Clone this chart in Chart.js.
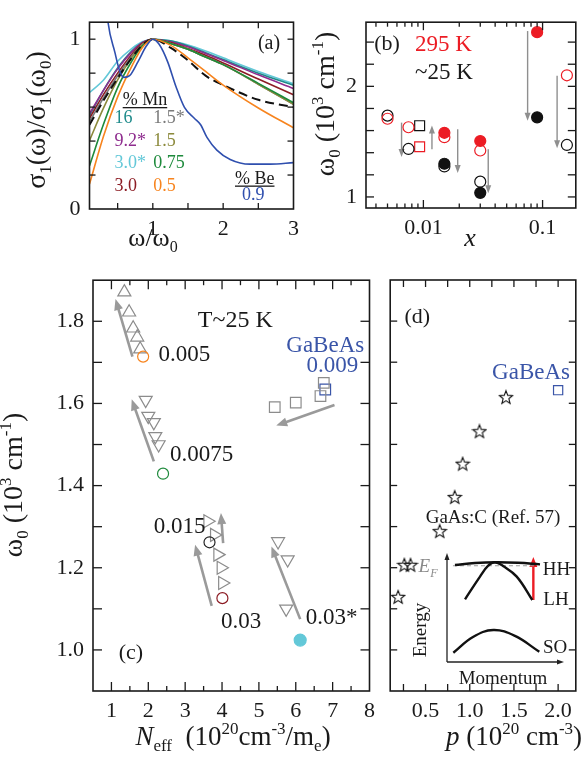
<!doctype html>
<html lang="en">
<head>
<meta charset="UTF-8">
<title>omega_0 of GaMnAs / GaBeAs</title>
<script src="https://cdn.jsdelivr.net/npm/chart.js"></script>
<style>
    body { margin: 0; background: #fff; }
    #fig { position: relative; width: 584px; height: 764px; overflow: hidden; }
    #fig canvas { position: absolute; }
</style>
</head>
<body>
<div id="fig">
    <canvas id="chartA" width="306" height="258" style="left:0;top:0"></canvas>
    <canvas id="chartB" width="284" height="258" style="left:300px;top:0"></canvas>
    <canvas id="chartC" width="382" height="506" style="left:0;top:258px"></canvas>
    <canvas id="chartD" width="202" height="506" style="left:382px;top:258px"></canvas>
    <canvas id="chartE" width="178" height="145" style="left:400px;top:545px"></canvas>
</div>
<script>
// ---- (a) normalised sigma_1(omega) curves, x = omega/omega_0
const aX      = [0.1, 0.3, 0.5, 0.7, 0.85, 1.0, 1.25, 1.5, 1.75, 2.0, 2.5, 3.0];
const aMn16   = [0.55, 0.70, 0.83, 0.93, 0.98, 1.0, 0.99, 0.96, 0.92, 0.88, 0.80, 0.729];
const aMn92s  = [0.561, 0.70, 0.825, 0.925, 0.98, 1.0, 0.985, 0.955, 0.915, 0.875, 0.79, 0.71];
const aMn30s  = [0.686, 0.76, 0.87, 0.945, 0.985, 1.0, 0.99, 0.965, 0.93, 0.89, 0.81, 0.738];
const aMn30   = [0.534, 0.675, 0.80, 0.91, 0.975, 1.0, 0.98, 0.945, 0.905, 0.86, 0.765, 0.673];
const aMn15s  = [0.515, 0.655, 0.785, 0.90, 0.97, 1.0, 0.975, 0.94, 0.895, 0.85, 0.735, 0.617];
const aMn15   = [0.403, 0.595, 0.76, 0.89, 0.965, 1.0, 0.975, 0.94, 0.895, 0.85, 0.735, 0.617];
const aMn075  = [0.255, 0.50, 0.715, 0.87, 0.96, 1.0, 0.975, 0.94, 0.895, 0.85, 0.74, 0.626];
const aMn05   = [0.147, 0.43, 0.66, 0.84, 0.95, 1.0, 0.965, 0.89, 0.81, 0.73, 0.595, 0.478];
const aModel  = [0.496, 0.64, 0.77, 0.89, 0.965, 1.0, 0.95, 0.875, 0.785, 0.73, 0.643, 0.60];
const aBeX    = [0.3, 0.36, 0.46, 0.53, 0.59, 0.67, 0.79, 0.91, 1.0, 1.09, 1.21, 1.33, 1.45, 1.59, 1.68, 1.77, 1.91, 2.1, 2.38, 2.67, 3.0];
const aBe09   = [1.4, 1.11, 0.924, 0.812, 0.775, 0.785, 0.868, 0.961, 1.0, 0.97, 0.868, 0.72, 0.598, 0.534, 0.496, 0.422, 0.347, 0.292, 0.264, 0.264, 0.273];

// ---- (b) omega_0 vs x
const bRedFillX = [0.015, 0.03, 0.09];
const bRedFillY = [1.58, 1.506, 2.49];
const bRedOpenX = [0.005, 0.0075, 0.015, 0.03, 0.16];
const bRedOpenY = [1.707, 1.63, 1.54, 1.42, 2.10];
const bRedSqX = [0.0093];
const bRedSqY = [1.454];
const bBlkFillX = [0.015, 0.03, 0.09];
const bBlkFillY = [1.30, 1.037, 1.72];
const bBlkOpenX = [0.005, 0.0075, 0.015, 0.03, 0.16];
const bBlkOpenY = [1.735, 1.434, 1.276, 1.138, 1.47];
const bBlkSqX = [0.0093];
const bBlkSqY = [1.644];
const bArrowX    = [0.00656, 0.0118, 0.0194, 0.035, 0.0749, 0.1324];
const bArrowFrom = [1.672, 1.431, 1.612, 1.431, 2.50, 2.095];
const bArrowTo   = [1.362, 1.647, 1.216, 1.034, 1.69, 1.44];

// ---- (c) omega_0 vs N_eff
const c005UpX = [1.35, 1.48, 1.59, 1.70, 1.78];
const c005UpY = [1.871, 1.822, 1.783, 1.761, 1.732];
const c0075DnX = [1.93, 2.00, 2.15, 2.19, 2.28];
const c0075DnY = [1.608, 1.569, 1.554, 1.520, 1.500];
const c015RtX = [3.61, 3.79, 3.88, 3.97, 4.01];
const c015RtY = [1.313, 1.28, 1.232, 1.20, 1.163];
const c03sDnX = [5.52, 5.78, 5.74];
const c03sDnY = [1.264, 1.220, 1.100];
const cBeSqX = [5.43, 6.00, 6.67, 6.76];
const cBeSqY = [1.591, 1.602, 1.618, 1.650];
const cCircX = [1.86, 2.40, 3.66, 4.01];
const cCircY = [1.714, 1.429, 1.262, 1.126];
const cCircColor = ['#f7841e', '#1e8a3c', '#222222', '#8c1c24'];
const cFillX = [6.12];
const cFillY = [1.024];
const cBlueSqX = [6.80];
const cBlueSqY = [1.634];
const cArrowX0 = [1.57, 2.15, 7.05, 3.72, 4.03, 6.12];
const cArrowY0 = [1.714, 1.459, 1.596, 1.107, 1.26, 1.075];
const cArrowX1 = [1.11, 1.55, 5.47, 3.27, 3.97, 5.34];
const cArrowY1 = [1.854, 1.61, 1.546, 1.256, 1.333, 1.252];

// ---- (d) omega_0 vs p
const dStarX = [0.19, 0.26, 0.33, 0.66, 0.83, 0.92, 1.11, 1.41];
const dStarY = [1.129, 1.207, 1.207, 1.289, 1.372, 1.453, 1.532, 1.615];
const dBeX = [2.0];
const dBeY = [1.632];

// ---- inset band sketch (arbitrary units 0..100)
const eHHX = [6.8, 23.9, 42.5, 60.7, 79.5];
const eHHY = [89.0, 90.8, 91.5, 91.0, 89.6];
const eLHX = [15.4, 28.2, 35.0, 41.0, 47.9, 59.6, 72.9];
const eLHY = [57.5, 78.3, 88.1, 91.5, 88.1, 78.3, 56.9];
const eSOX = [5.4, 22.2, 39.6, 58.1, 78.9];
const eSOY = [8.5, 22.9, 29.4, 23.9, 9.4];
const eEFX = [5.1, 75.2];
const eEFY = [88.3, 88.3];

const SERIF = '"Liberation Serif", "Times New Roman", Times, serif';
const RED = '#ec1c24';
const GRAY = '#8c8c8c';
const BLUE = '#3a55a8';

Chart.defaults.font.family = SERIF;
Chart.defaults.font.size = 22;
Chart.defaults.color = '#1a1a1a';
Chart.defaults.animation = false;
Chart.defaults.plugins.legend.display = false;
Chart.defaults.plugins.tooltip.enabled = false;

const pts = (xs, ys) => xs.map((x, i) => ({ x: x, y: ys[i] }));
const near = (a, b) => Math.abs(a - b) < 1e-6;

// text with sub/superscripts; parts = [[text, style, colour]]
// style letters: i italic, b subscript, p superscript, u underline
function richText(ctx, parts, x, y, size, align, color, rot) {
    const fontOf = st => (st.includes('i') ? 'italic ' : '') +
        Math.round(st.includes('b') || st.includes('p') ? size * 0.62 : size) + 'px ' + SERIF;
    let w = 0;
    parts.forEach(p => { ctx.font = fontOf(p[1] || ''); w += ctx.measureText(p[0]).width; });
    ctx.save();
    ctx.translate(x, y);
    if (rot) ctx.rotate(rot);
    let cx = align === 'left' ? 0 : (align === 'right' ? -w : -w / 2);
    ctx.textBaseline = 'alphabetic';
    ctx.textAlign = 'left';
    parts.forEach(p => {
        const st = p[1] || '';
        ctx.font = fontOf(st);
        ctx.fillStyle = p[2] || color || '#1a1a1a';
        const dy = st.includes('b') ? size * 0.22 : (st.includes('p') ? -size * 0.4 : 0);
        ctx.fillText(p[0], cx, dy);
        const tw = ctx.measureText(p[0]).width;
        if (st.includes('u')) {
            ctx.fillRect(cx, dy + 2, tw, 1.3);
        }
        cx += tw;
    });
    ctx.restore();
}

function drawArrow(ctx, x0, y0, x1, y1, st) {
    const ang = Math.atan2(y1 - y0, x1 - x0);
    const hl = st.head, hw = st.half;
    const bx = x1 - hl * Math.cos(ang), by = y1 - hl * Math.sin(ang);
    ctx.save();
    ctx.strokeStyle = st.color;
    ctx.fillStyle = st.color;
    ctx.lineWidth = st.width;
    ctx.beginPath();
    ctx.moveTo(x0, y0);
    ctx.lineTo(bx + Math.cos(ang), by + Math.sin(ang));
    ctx.stroke();
    ctx.beginPath();
    ctx.moveTo(x1, y1);
    ctx.lineTo(bx + hw * Math.sin(ang), by - hw * Math.cos(ang));
    ctx.lineTo(bx - hw * Math.sin(ang), by + hw * Math.cos(ang));
    ctx.closePath();
    ctx.fill();
    ctx.restore();
}

// frame, inward ticks on all four sides, arrows and text
function decor(id, cfg) {
    return {
        id: id,
        beforeDatasetsDraw(chart) {
            const xs = chart.scales.x, ys = chart.scales.y, ctx = chart.ctx;
            (cfg.arrows || []).forEach(a => {
                drawArrow(ctx, xs.getPixelForValue(a[0]), ys.getPixelForValue(a[1]),
                    xs.getPixelForValue(a[2]), ys.getPixelForValue(a[3]), cfg.arrowStyle);
            });
        },
        afterDraw(chart) {
            const ctx = chart.ctx, a = chart.chartArea;
            const xs = chart.scales.x, ys = chart.scales.y;
            if (cfg.frame) {
                ctx.save();
                ctx.strokeStyle = '#1a1a1a';
                ctx.lineWidth = 1.6;
                ctx.strokeRect(a.left, a.top, a.right - a.left, a.bottom - a.top);
                ctx.lineWidth = 1.3;
                const seg = (x0, y0, x1, y1) => { ctx.beginPath(); ctx.moveTo(x0, y0); ctx.lineTo(x1, y1); ctx.stroke(); };
                let xv = cfg.xLog ? cfg.xLog : xs.ticks.map(t => t.value);
                xv.forEach(v => {
                    const px = xs.getPixelForValue(v);
                    if (px < a.left + 2 || px > a.right - 2) return;
                    let major = cfg.xLog ? near(Math.log10(v), Math.round(Math.log10(v)))
                        : near(v / cfg.xMajor, Math.round(v / cfg.xMajor));
                    const L = major ? cfg.tickMajor : cfg.tickMinor;
                    seg(px, a.bottom, px, a.bottom - L);
                    seg(px, a.top, px, a.top + L);
                });
                ys.ticks.forEach(t => {
                    const py = ys.getPixelForValue(t.value);
                    if (py < a.top + 2 || py > a.bottom - 2) return;
                    const major = near(t.value / cfg.yMajor, Math.round(t.value / cfg.yMajor));
                    const L = major ? cfg.tickMajor : cfg.tickMinor;
                    seg(a.left, py, a.left + L, py);
                    seg(a.right, py, a.right - L, py);
                });
                ctx.restore();
            }
            (cfg.texts || []).forEach(t => {
                let x = t.x, y = t.y;
                if (t.data) { x = xs.getPixelForValue(t.x); y = ys.getPixelForValue(t.y); }
                if (t.mid) {
                    if (t.rot) x += t.size * 0.34; else y += t.size * 0.34;
                }
                richText(ctx, t.parts, x, y, t.size, t.align || 'center', t.color, t.rot);
            });
            if (cfg.extra) cfg.extra(chart);
        }
    };
}

function axis(pos, min, max, step, label, fit, extra, tickExtra) {
    return Object.assign({
        type: 'linear',
        position: pos,
        min: min,
        max: max,
        grid: { display: false, drawTicks: false },
        border: { display: false },
        ticks: Object.assign({
            stepSize: step, includeBounds: false, autoSkip: false, maxRotation: 0,
            padding: pos === 'bottom' ? 7 : 9, callback: label,
            font: { size: 22, family: SERIF }, color: '#1a1a1a'
        }, tickExtra || {}),
        afterFit: s => { if (pos === 'bottom') s.height = fit; else s.width = fit; }
    }, extra || {});
}

function curve(xs, ys, color, extra) {
    return Object.assign({
        data: pts(xs, ys), showLine: true, borderColor: color, borderWidth: 1.6,
        pointRadius: 0, tension: 0.4, cubicInterpolationMode: 'monotone', fill: false
    }, extra || {});
}

function marks(xs, ys, style, color, fillColor, radius, extra) {
    return Object.assign({
        data: pts(xs, ys), showLine: false, pointStyle: style, pointRadius: radius,
        pointBorderColor: color, pointBackgroundColor: fillColor, pointBorderWidth: 1.2
    }, extra || {});
}

const OPEN = 'rgba(0,0,0,0)';

// ================= (a)
new Chart(document.getElementById('chartA'), {
    type: 'scatter',
    data: {
        datasets: [
            curve(aBeX, aBe09, '#2f4fae'),
            curve(aX, aMn05, '#f7841e'),
            curve(aX, aModel, '#111', { borderDash: [9, 5], borderWidth: 2 }),
            curve(aX, aMn075, '#1e8a3c'),
            curve(aX, aMn15, '#8c8a3c'),
            curve(aX, aMn15s, '#7a7a7a'),
            curve(aX, aMn30, '#8c1c24'),
            curve(aX, aMn92s, '#8e2c8e'),
            curve(aX, aMn16, '#1f8b8b'),
            curve(aX, aMn30s, '#63c8d8')
        ]
    },
    options: {
        responsive: false,
        layout: { padding: { top: 12.5, right: 10.5, left: 0, bottom: 0 } },
        scales: {
            x: axis('bottom', 0.1, 3, 0.5, v => (near(v, Math.round(v)) ? String(Math.round(v)) : ''), 49),
            y: axis('left', 0, 1.1, 0.2, v => (near(v, 0) ? '0' : near(v, 1) ? '1' : ''), 89.5)
        }
    },
    plugins: [decor('decorA', {
        frame: true, xMajor: 0.5, yMajor: 0.2, tickMajor: 6, tickMinor: 6,
        texts: [
            { x: 269, y: 49, size: 20, parts: [['(a)']] },
            { x: 122.7, y: 105, size: 18, align: 'left', parts: [['% Mn', 'u']] },
            { x: 114.5, y: 123, size: 17.5, align: 'left', parts: [['16', '', '#1f8b8b']] },
            { x: 114.5, y: 145.5, size: 17.5, align: 'left', parts: [['9.2*', '', '#8e2c8e']] },
            { x: 114.5, y: 168, size: 17.5, align: 'left', parts: [['3.0*', '', '#63c8d8']] },
            { x: 114.5, y: 191, size: 17.5, align: 'left', parts: [['3.0', '', '#8c1c24']] },
            { x: 153.3, y: 123, size: 17.5, align: 'left', parts: [['1.5*', '', '#7a7a7a']] },
            { x: 153.3, y: 145.5, size: 17.5, align: 'left', parts: [['1.5', '', '#8c8a3c']] },
            { x: 153.3, y: 168, size: 17.5, align: 'left', parts: [['0.75', '', '#1e8a3c']] },
            { x: 153.3, y: 191, size: 17.5, align: 'left', parts: [['0.5', '', '#f7841e']] },
            { x: 235, y: 183.5, size: 18, align: 'left', parts: [['% Be', 'u']] },
            { x: 242, y: 200, size: 17.5, align: 'left', parts: [['0.9', '', '#2f4fae']] },
            { x: 153, y: 246, size: 26, parts: [['ω/ω'], ['0', 'b']] },
            { x: 45, y: 120, size: 28, rot: -Math.PI / 2,
              parts: [['σ'], ['1', 'b'], ['(ω)/σ'], ['1', 'b'], ['(ω'], ['0', 'b'], [')']] }
        ]
    })]
});

// ================= (b)
const bArrows = bArrowX.map((x, i) => [x, bArrowFrom[i], x, bArrowTo[i]]);
const bLogTicks = [];
[-3, -2, -1].forEach(e => { for (let m = 1; m <= 9; m++) bLogTicks.push(m * Math.pow(10, e)); });

new Chart(document.getElementById('chartB'), {
    type: 'scatter',
    data: {
        datasets: [
            marks(bRedFillX, bRedFillY, 'circle', RED, RED, 5.5),
            marks(bBlkFillX, bBlkFillY, 'circle', '#111', '#111', 5.5),
            marks(bRedOpenX, bRedOpenY, 'circle', RED, OPEN, 5.5),
            marks(bBlkOpenX, bBlkOpenY, 'circle', '#111', OPEN, 5.5),
            marks(bRedSqX, bRedSqY, 'rect', RED, OPEN, 7),
            marks(bBlkSqX, bBlkSqY, 'rect', '#111', OPEN, 7)
        ]
    },
    options: {
        responsive: false,
        layout: { padding: { top: 12, right: 5, left: 0, bottom: 0 } },
        scales: {
            x: axis('bottom', 0.0033, 0.19, undefined,
                v => (near(v, 0.01) ? '0.01' : near(v, 0.1) ? '0.1' : ''), 50, { type: 'logarithmic' }),
            y: axis('left', 0.9, 2.58, 0.2, v => (near(v, 1) ? '1' : near(v, 2) ? '2' : ''), 66)
        }
    },
    plugins: [decor('decorB', {
        frame: true, xLog: bLogTicks, yMajor: 0.2, tickMajor: 8, tickMinor: 4.5,
        arrows: bArrows, arrowStyle: { color: '#8f8f8f', width: 1.4, head: 8, half: 3 },
        texts: [
            { x: 87, y: 50, size: 22, parts: [['(b)']] },
            { x: 115, y: 51, size: 23, align: 'left', color: RED, parts: [['295 K']] },
            { x: 115, y: 79, size: 23, align: 'left', parts: [['~25 K']] },
            { x: 170, y: 246, size: 26, parts: [['x', 'i']] },
            { x: 34, y: 104, size: 28, rot: -Math.PI / 2,
              parts: [['ω'], ['0', 'b'], [' (10'], ['3', 'p'], [' cm'], ['-1', 'p'], [')']] }
        ]
    })]
});

// ================= (c)
const cArrows = cArrowX0.map((x, i) => [x, cArrowY0[i], cArrowX1[i], cArrowY1[i]]);
new Chart(document.getElementById('chartC'), {
    type: 'scatter',
    data: {
        datasets: [
            marks(cFillX, cFillY, 'circle', '#63c8d8', '#63c8d8', 6),
            marks(cCircX, cCircY, 'circle', cCircColor, OPEN, 5.5),
            marks(cBeSqX, cBeSqY, 'rect', GRAY, OPEN, 7.5),
            marks(cBlueSqX, cBlueSqY, 'rect', BLUE, OPEN, 7.5),
            marks(c005UpX, c005UpY, 'triangle', GRAY, OPEN, 7.5),
            marks(c0075DnX, c0075DnY, 'triangle', GRAY, OPEN, 7.5, { pointRotation: 180 }),
            marks(c015RtX, c015RtY, 'triangle', GRAY, OPEN, 7.5, { pointRotation: 90 }),
            marks(c03sDnX, c03sDnY, 'triangle', GRAY, OPEN, 7.5, { pointRotation: 180 })
        ]
    },
    options: {
        responsive: false,
        layout: { padding: { top: 22, right: 6, left: 0, bottom: 0 } },
        scales: {
            x: axis('bottom', 0.5, 8, 0.5, v => (near(v, Math.round(v)) ? String(Math.round(v)) : ''), 73),
            y: axis('left', 0.9, 1.9, 0.1, v => (near(v * 5, Math.round(v * 5)) ? v.toFixed(1) : ''), 93)
        }
    },
    plugins: [decor('decorC', {
        frame: true, xMajor: 1, yMajor: 0.1, tickMajor: 9, tickMinor: 5,
        arrows: cArrows, arrowStyle: { color: '#9a9a9a', width: 2.6, head: 11, half: 4.5 },
        texts: [
            { data: true, mid: true, x: 4.36, y: 1.805, size: 24, parts: [['T~25 K']] },
            { data: true, mid: true, x: 6.80, y: 1.744, size: 23, color: BLUE, parts: [['GaBeAs']] },
            { data: true, mid: true, x: 6.99, y: 1.695, size: 23, color: BLUE, parts: [['0.009']] },
            { data: true, mid: true, x: 2.28, y: 1.722, size: 23, align: 'left', parts: [['0.005']] },
            { data: true, mid: true, x: 2.59, y: 1.48, size: 23, align: 'left', parts: [['0.0075']] },
            { data: true, mid: true, x: 2.15, y: 1.304, size: 23, align: 'left', parts: [['0.015']] },
            { data: true, mid: true, x: 3.97, y: 1.073, size: 23, align: 'left', parts: [['0.03']] },
            { data: true, mid: true, x: 6.27, y: 1.082, size: 23, align: 'left', parts: [['0.03*']] },
            { data: true, mid: true, x: 1.53, y: 0.996, size: 22, parts: [['(c)']] },
            { x: 233, y: 487, size: 27,
              parts: [['N', 'i'], ['eff', 'b'], ['  (10'], ['20', 'p'], ['cm'], ['-3', 'p'], ['/m'], ['e', 'b'], [')']] },
            { x: 22, y: 227, size: 28, rot: -Math.PI / 2,
              parts: [['ω'], ['0', 'b'], [' (10'], ['3', 'p'], [' cm'], ['-1', 'p'], [')']] }
        ]
    })]
});

// ================= (d)
const starImg = document.createElement('canvas');
starImg.width = 16; starImg.height = 16;
(function () {
    const g = starImg.getContext('2d');
    g.beginPath();
    for (let k = 0; k < 10; k++) {
        const r = k % 2 === 0 ? 7 : 3;
        const ang = -Math.PI / 2 + k * Math.PI / 5;
        const x = 8 + r * Math.cos(ang), y = 8.6 + r * Math.sin(ang);
        if (k === 0) g.moveTo(x, y); else g.lineTo(x, y);
    }
    g.closePath();
    g.strokeStyle = '#111';
    g.lineWidth = 1.1;
    g.stroke();
})();

new Chart(document.getElementById('chartD'), {
    type: 'scatter',
    data: {
        datasets: [
            marks(dStarX, dStarY, starImg, '#111', OPEN, 7),
            marks(dBeX, dBeY, 'rect', BLUE, OPEN, 6.5)
        ]
    },
    options: {
        responsive: false,
        layout: { padding: { top: 22, right: 5, left: 0, bottom: 0 } },
        scales: {
            x: axis('bottom', 0.1, 2.2, 0.25, v => (near(v * 2, Math.round(v * 2)) ? v.toFixed(1) : ''), 73),
            y: axis('left', 0.9, 1.9, 0.1, () => '', 5, null, { display: false })
        }
    },
    plugins: [decor('decorD', {
        frame: true, xMajor: 0.25, yMajor: 0.1, tickMajor: 7, tickMinor: 7,
        texts: [
            { data: true, mid: true, x: 0.406, y: 1.813, size: 22, parts: [['(d)']] },
            { data: true, mid: true, x: 1.694, y: 1.679, size: 23, color: BLUE, parts: [['GaBeAs']] },
            { data: true, mid: true, x: 1.263, y: 1.325, size: 19, parts: [['GaAs:C (Ref. 57)']] },
            { x: 132, y: 487, size: 27, parts: [['p', 'i'], [' (10'], ['20', 'p'], [' cm'], ['-3', 'p'], [')']] }
        ]
    })]
});

// ================= inset band sketch
new Chart(document.getElementById('chartE'), {
    type: 'scatter',
    data: {
        datasets: [
            curve(eHHX, eHHY, '#111', { borderWidth: 2.4, cubicInterpolationMode: 'default' }),
            curve(eLHX, eLHY, '#111', { borderWidth: 2.4, cubicInterpolationMode: 'default' }),
            curve(eSOX, eSOY, '#111', { borderWidth: 2.4, cubicInterpolationMode: 'default' }),
            curve(eEFX, eEFY, '#9a9a9a', { borderWidth: 1, borderDash: [4, 3], tension: 0 })
        ]
    },
    options: {
        responsive: false,
        layout: { padding: { top: 8, right: 14, left: 47, bottom: 28 } },
        scales: {
            x: { type: 'linear', min: 0, max: 100, display: false },
            y: { type: 'linear', min: 0, max: 100, display: false }
        }
    },
    plugins: [decor('decorE', {
        frame: false,
        arrows: [[73.8, 56.9, 73.8, 96.3]],
        arrowStyle: { color: RED, width: 2.4, head: 10, half: 4 },
        extra: chart => {
            const xs = chart.scales.x, ys = chart.scales.y;
            const st = { color: '#222', width: 1.3, head: 7, half: 2.5 };
            drawArrow(chart.ctx, xs.getPixelForValue(0), ys.getPixelForValue(0), xs.getPixelForValue(0), ys.getPixelForValue(100), st);
            drawArrow(chart.ctx, xs.getPixelForValue(0), ys.getPixelForValue(0), xs.getPixelForValue(100), ys.getPixelForValue(0), st);
        },
        texts: [
            { x: 142.7, y: 23.3, mid: true, size: 19, align: 'left', parts: [['HH']] },
            { x: 143.3, y: 53.3, mid: true, size: 19, align: 'left', parts: [['LH']] },
            { x: 143, y: 101.7, mid: true, size: 19, align: 'left', parts: [['SO']] },
            { x: 103, y: 133, mid: true, size: 19, parts: [['Momentum']] },
            { x: 20, y: 85, mid: true, size: 19, rot: -Math.PI / 2, parts: [['Energy']] },
            { x: 28, y: 21, mid: true, size: 19, color: '#8a8a8a', parts: [['E', 'i'], ['F', 'ib']] }
        ]
    })]
});
</script>
</body>
</html>
